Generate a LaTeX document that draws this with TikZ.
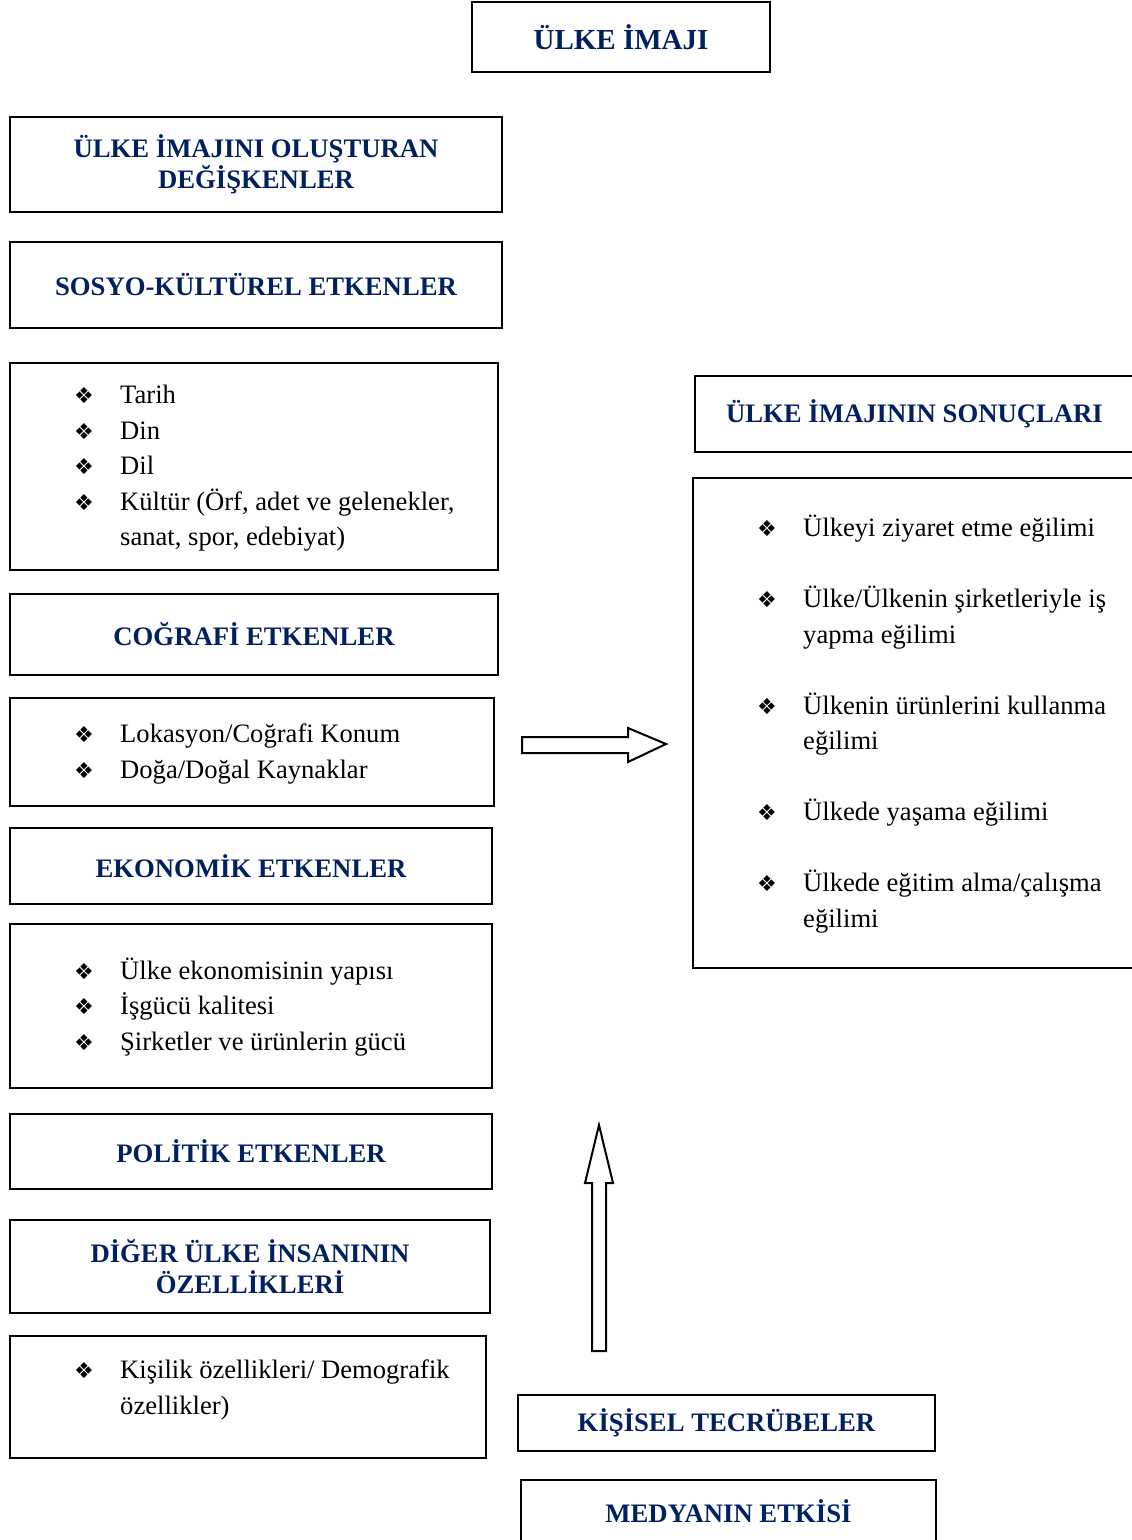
\documentclass[tikz,border=0pt]{standalone}
\usepackage{fontspec}
\setmainfont{Liberation Serif}
\newfontfamily\isaretfont{DejaVu Sans}
\usetikzlibrary{positioning}
\definecolor{lacivert}{RGB}{0,32,96}
\newcommand{\madde}{\makebox[46pt][l]{\isaretfont\fontsize{22}{22}\selectfont ❖}}
\newcommand{\girinti}{\hspace*{46pt}}
\tikzset{
  kutu/.style={draw,line width=2pt,inner sep=0pt},
  baslik/.style={kutu,align=center,text=lacivert,font=\fontsize{26.7}{31}\selectfont\bfseries},
  liste/.style={align=left,inner sep=0pt,anchor=west,font=\fontsize{26.6}{35.5}\selectfont},
}
\begin{document}
\begin{tikzpicture}[x=1pt,y=-1pt]
		\useasboundingbox (0,0) rectangle (1132,1540);
		\node[baslik,minimum width=298pt,minimum height=70pt,font=\fontsize{29}{31}\selectfont\bfseries] (imaj) at (621,37) {ÜLKE İMAJI};
		% sol sutun
		\node[baslik,minimum width=492pt,minimum height=95pt] (degisken) at (256,164.5) {ÜLKE İMAJINI OLUŞTURAN\\DEĞİŞKENLER};
		\node[baslik,minimum width=492pt,minimum height=86pt] (sosyo) at (256,285) {SOSYO-KÜLTÜREL ETKENLER};
		\node[kutu,minimum width=488pt,minimum height=207pt] (sosyoK) at (254,466.5) {};
		\node[liste] (sosyoL) at ([xshift=65pt,yshift=-2pt]sosyoK.west) {\madde Tarih\\ \madde Din\\ \madde Dil\\ \madde Kültür (Örf, adet ve gelenekler,\\ \girinti sanat, spor, edebiyat)};
		\node[baslik,minimum width=488pt,minimum height=81pt] (cografi) at (254,634.5) {COĞRAFİ ETKENLER};
		\node[kutu,minimum width=484pt,minimum height=108pt] (cografiK) at (252,752) {};
		\node[liste] (cografiL) at ([xshift=65pt,yshift=-2pt]cografiK.west) {\madde Lokasyon/Coğrafi Konum\\ \madde Doğa/Doğal Kaynaklar};
		\node[baslik,minimum width=482pt,minimum height=76pt] (ekonomi) at (251,866) {EKONOMİK ETKENLER};
		\node[kutu,minimum width=482pt,minimum height=164pt] (ekonomiK) at (251,1006) {};
		\node[liste] (ekonomiL) at ([xshift=65pt,yshift=-1pt]ekonomiK.west) {\madde Ülke ekonomisinin yapısı\\ \madde İşgücü kalitesi\\ \madde Şirketler ve ürünlerin gücü};
		\node[baslik,minimum width=482pt,minimum height=75pt] (politik) at (251,1151.5) {POLİTİK ETKENLER};
		\node[baslik,minimum width=480pt,minimum height=93pt] (insan) at (250,1266.5) {DİĞER ÜLKE İNSANININ\\ÖZELLİKLERİ};
		\node[kutu,minimum width=476pt,minimum height=122pt] (insanK) at (248,1397) {};
		\node[liste] (insanL) at ([xshift=65pt,yshift=7pt]insanK.west) {\madde Kişilik özellikleri/ Demografik\\ \girinti özellikler)};
		% sag taraf
		\node[baslik,minimum width=439pt,minimum height=76pt] (sonuc) at (914.5,414) {ÜLKE İMAJININ SONUÇLARI};
		\node[kutu,minimum width=441pt,minimum height=490pt] (sonucK) at (913.5,723) {};
		\node[liste] (sonucL) at ([xshift=65pt,yshift=-1pt]sonucK.west) {\madde Ülkeyi ziyaret etme eğilimi\\[35.5pt] \madde Ülke/Ülkenin şirketleriyle iş\\ \girinti yapma eğilimi\\[35.5pt] \madde Ülkenin ürünlerini kullanma\\ \girinti eğilimi\\[35.5pt] \madde Ülkede yaşama eğilimi\\[35.5pt] \madde Ülkede eğitim alma/çalışma\\ \girinti eğilimi};
		\node[baslik,minimum width=417pt,minimum height=56pt] (tecrube) at (726.5,1423) {KİŞİSEL TECRÜBELER};
		\node[baslik,minimum width=415pt,minimum height=62pt] (medya) at (728.5,1511) {MEDYANIN ETKİSİ};
		% oklar
		\coordinate (sagok) at (522,745);
		\coordinate (yukariok) at (599,1351);
		\draw[line width=2pt,fill=white] (sagok) ++(0,-8) -- ++(106,0) -- ++(0,-9) -- ++(38,16) -- ++(-38,18) -- ++(0,-9) -- ++(-106,0) -- cycle;
		\draw[line width=2pt,fill=white] (yukariok) ++(-7,0) -- ++(0,-168) -- ++(-7,0) -- ++(14,-58) -- ++(14,58) -- ++(-7,0) -- ++(0,168) -- cycle;
		\end{tikzpicture}
\end{document}
